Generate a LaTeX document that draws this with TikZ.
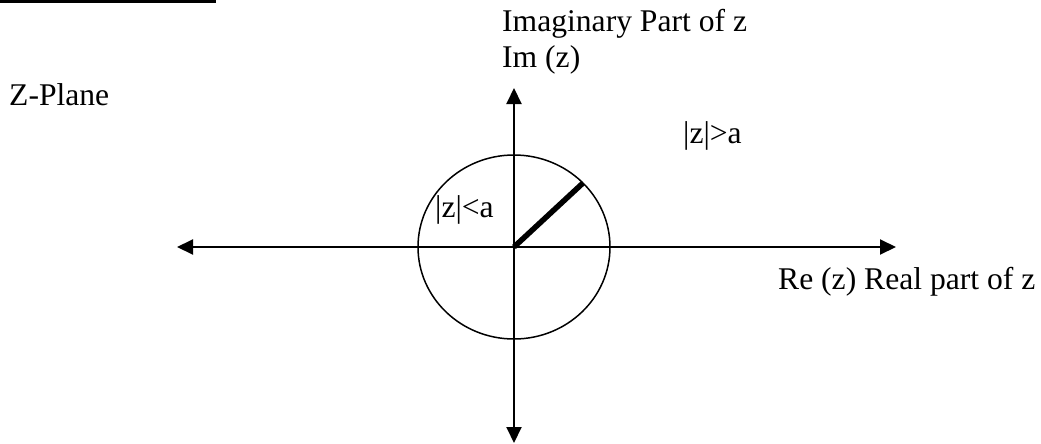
\documentclass[tikz,border=0pt]{standalone}
\usepackage{fontspec}
\setmainfont{Liberation Serif}
\usetikzlibrary{arrows.meta}
\begin{document}
\begin{tikzpicture}[x=1pt,y=-1pt,
  lbl/.style={anchor=base west,inner sep=0pt,font=\fontsize{31.6}{37}\selectfont},
  axis/.style={line width=2pt,{Triangle[length=16pt,width=15pt]}-{Triangle[length=16pt,width=15pt]}}]
\useasboundingbox (0,0) rectangle (1041,444);
\fill (0,0) rectangle (216,3);
\coordinate (O) at (514,247);
\coordinate (L) at (177,247);
\coordinate (R) at (896,247);
\coordinate (T) at (514,88);
\coordinate (B) at (514,443);
\coordinate (P) at (583,183);
\draw[line width=1.5pt] (O) ellipse [x radius=96, y radius=92];
\draw[axis] (L) -- (R);
\draw[axis] (T) -- (B);
\draw[line width=5.5pt] (O) -- (P);
\node[lbl] (imag) at (502,32) {Imaginary Part of z};
\node[lbl] (im) at (502,67) {Im (z)};
\node[lbl] (zp) at (9,105) {Z-Plane};
\node[lbl] (gt) at (683,143) {|z|>a};
\node[lbl] (lt) at (435,217) {|z|<a};
\node[lbl] (re) at (778,289) {Re (z) Real part of z};
\end{tikzpicture}
\end{document}
